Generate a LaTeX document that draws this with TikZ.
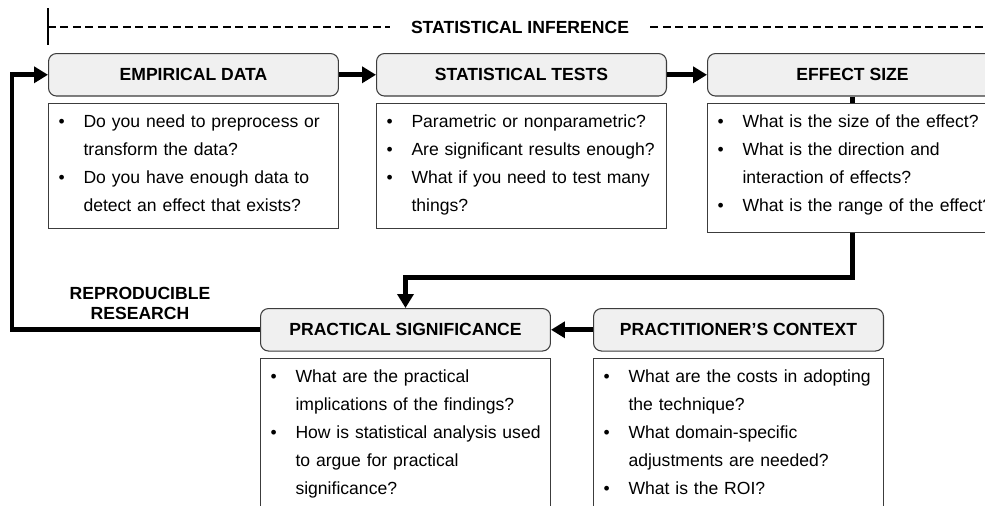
\documentclass[tikz,border=0pt]{standalone}
\usepackage{fontspec}
\setmainfont{Liberation Sans}
\usepackage{xcolor}
\usetikzlibrary{positioning, calc, arrows.meta}
\definecolor{headgray}{RGB}{240,240,240}
\definecolor{edgegray}{RGB}{60,60,60}
\tikzstyle{arrow} = [line width=2.8pt,-{Triangle[length=0.28cm,width=0.32cm]}]
\tikzstyle{link} = [line width=2.8pt]
\tikzstyle{inference} = [line width=0.75pt,dash pattern=on 0.16cm off 0.09cm]
\tikzstyle{head} = [draw=edgegray,line width=0.6pt,fill=headgray,rounded corners=0.16cm,minimum width=5.8cm,minimum height=0.85cm,anchor=north west,font=\bfseries]
\tikzstyle{quest} = [draw=edgegray,line width=0.6pt,fill=white,anchor=north west,text width=5.8cm,inner xsep=0pt,inner ysep=0.088cm,text height=0.39cm,font=\fontsize{10}{15.9}\selectfont]
\newcommand{\QS}[1]{\noindent\hangindent=0.7cm\hangafter=1\makebox[0.7cm][l]{\hspace{0.2cm}\textbullet}\strut#1\par}

\begin{document}
\begin{tikzpicture}[x=0.02cm,y=-0.02cm]
	\useasboundingbox (0,0) rectangle (985,505);
	\clip (0,0) rectangle (985,505);
	
	\coordinate (row1) at (48,53);
	\coordinate (row2) at (260,308);
	
	\coordinate (data) at ($ (row1) + (0,0) $);
	\coordinate (tests) at ($ (row1) + (328,0) $);
	\coordinate (effect) at ($ (row1) + (659,0) $);
	
	\coordinate (signif) at ($ (row2) + (0,0) $);
	\coordinate (context) at ($ (row2) + (333,0) $);
	
	\newcommand{\STEP}[4]{\node[head] (#1head) at (#1) {#2};\node[quest,text depth=#3] (#1body) at ($ (#1) + (0,50) $) {#4};}
	
	\STEP{data}{EMPIRICAL DATA}{1.93cm}{\QS{Do you need to preprocess or\newline transform the data?}\QS{Do you have enough data to\newline detect an effect that exists?}}
	\STEP{tests}{STATISTICAL TESTS}{1.93cm}{\QS{Parametric or nonparametric?}\QS{Are significant results enough?}\QS{What if you need to test many\newline things?}}
	\STEP{effect}{EFFECT SIZE}{2.01cm}{\QS{What is the size of the effect?}\QS{What is the direction and\newline interaction of effects?}\QS{What is the range of the effect?}}
	
	\STEP{signif}{PRACTICAL SIGNIFICANCE}{2.65cm}{\QS{What are the practical\newline implications of the findings?}\QS{How is statistical analysis used\newline to argue for practical\newline significance?}}
	\STEP{context}{PRACTITIONER’S CONTEXT}{2.65cm}{\QS{What are the costs in adopting\newline the technique?}\QS{What domain-specific\newline adjustments are needed?}\QS{What is the ROI?}}
	
	% statistical inference band
	\coordinate (infstart) at (48,27);
	\coordinate (infend) at (990,27);
	\node[font=\bfseries,inner xsep=0.42cm] (inf) at (520,27) {STATISTICAL INFERENCE};
	\draw[inference] (infstart) -- (inf.west);
	\draw[inference] (inf.east) -- (infend);
	\draw[line width=0.75pt] ($ (infstart) + (0,-19) $) -- ($ (infstart) + (0,18) $);
	
	\draw[arrow] (datahead.east) -- (testshead.west);
	\draw[arrow] (testshead.east) -- (effecthead.west);
	\draw[link] (effecthead.south) -- (effectbody.north);
	
	\coordinate (turn) at ($ (effectbody.south) + (0,45) $);
	\draw[arrow] (effectbody.south) -- (turn) -| (signifhead.north);
	\draw[arrow] (contexthead.west) -- (signifhead.east);
	
	% reproducible research loop
	\coordinate (backx) at (12,0);
	\draw[arrow] (signifhead.west) -- (signifhead.west -| backx) |- (datahead.west);
	\node[font=\fontsize{10}{11.4}\selectfont\bfseries,align=center] (repro) at (140,303) {REPRODUCIBLE\\RESEARCH};
	
\end{tikzpicture}
\end{document}
